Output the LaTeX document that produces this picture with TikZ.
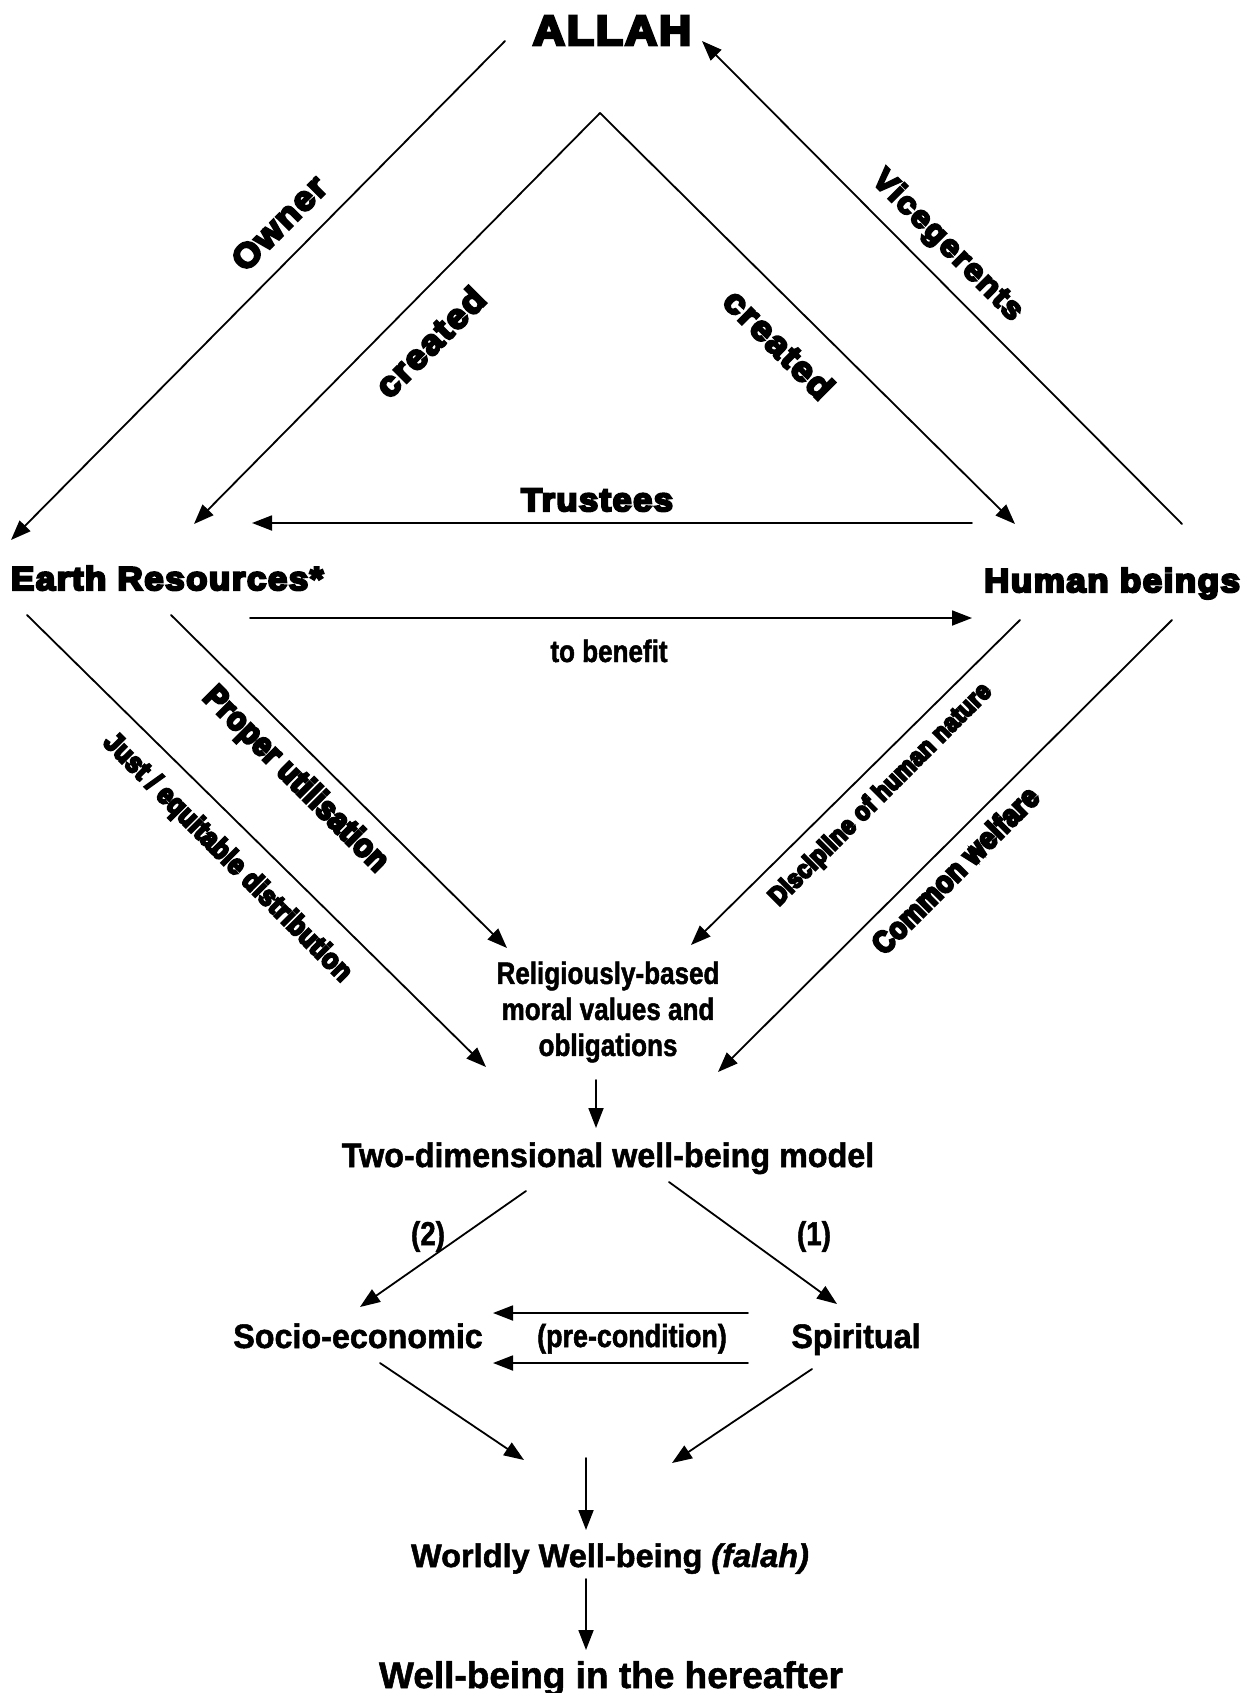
\documentclass[tikz,border=0pt]{standalone}
\usepackage{fontspec}
\usetikzlibrary{arrows.meta}

% Font families: a very heavy wide face for the main concepts, a heavy
% condensed face for the sloped labels, and narrow bold faces for the rest.
\newfontfamily\heavyfont{Liberation Sans Bold}[FakeBold=7,FakeStretch=1.06,LetterSpace=4.5]
\newfontfamily\condheavyfont{Liberation Sans Bold}[FakeBold=8,FakeStretch=0.88,LetterSpace=1.5]
\newfontfamily\narrowfont{Liberation Sans Bold}[FakeBold=1.5,FakeStretch=0.84]
\newfontfamily\semifont{Liberation Sans Bold}[FakeBold=1.5,FakeStretch=0.95]
\newfontfamily\plainfont{Liberation Sans Bold}[FakeBold=1.5]
\newfontfamily\plainitfont{Liberation Sans Bold Italic}[FakeBold=1.5]

\tikzset{
  conn/.style={line width=1.8pt, line cap=round},
  arr/.style={conn, -{Triangle[length=20pt,width=15pt]}},
  txt/.style={inner sep=0pt, outer sep=0pt, anchor=base, text=black},
  heavy/.style={txt, font=\heavyfont\fontsize{#1}{#1}\selectfont},
  slope/.style={inner sep=0pt, anchor=center, font=\condheavyfont\fontsize{#1}{#1}\selectfont},
  slopeheavy/.style={inner sep=0pt, anchor=center, font=\heavyfont\fontsize{#1}{#1}\selectfont},
  narrow/.style={txt, font=\narrowfont\fontsize{#1}{#1}\selectfont},
  semi/.style={txt, font=\semifont\fontsize{#1}{#1}\selectfont},
  plain/.style={txt, font=\plainfont\fontsize{#1}{#1}\selectfont},
}

\begin{document}
\begin{tikzpicture}[x=1pt,y=-1pt]
  \fill[white] (0,0) rectangle (1258,1693);
  \useasboundingbox (0,0) rectangle (1258,1693);

  % ---- main concepts ----
  \node[heavy=42] (allah) at (612,45) {ALLAH};
  \node[heavy=33, anchor=base west] (earth) at (11,590) {Earth Resources*};
  \node[heavy=33, anchor=base east] (human) at (1240,592) {Human beings};

  % ---- end points of the connectors ----
  \coordinate (ownerS) at (505,41);
  \coordinate (ownerE) at (11,540);
  \coordinate (apex) at (600,113);
  \coordinate (createdL) at (194,524);
  \coordinate (createdR) at (1015,524);
  \coordinate (viceS) at (1182,524);
  \coordinate (viceE) at (702,41);
  \coordinate (trustS) at (972,523);
  \coordinate (trustE) at (252,523);
  \coordinate (benefitS) at (250,618);
  \coordinate (benefitE) at (972,618);
  \coordinate (justS) at (27,615);
  \coordinate (justE) at (486,1067);
  \coordinate (properS) at (171,615);
  \coordinate (properE) at (507,948);
  \coordinate (discS) at (1020,620);
  \coordinate (discE) at (691,945);
  \coordinate (commonS) at (1172,620);
  \coordinate (commonE) at (718,1072);

  % ---- upper triangle ----
  \draw[arr] (ownerS) -- (ownerE);
  \draw[arr] (apex) -- (createdL);
  \draw[arr] (apex) -- (createdR);
  \draw[arr] (viceS) -- (viceE);
  \draw[arr] (trustS) -- (trustE);
  \draw[arr] (benefitS) -- (benefitE);

  \node[slopeheavy=34, rotate=45] (lowner) at (279,223) {Owner};
  \node[slopeheavy=34.5, rotate=45] (lcreatedL) at (430,342) {created};
  \node[slopeheavy=34.5, rotate=-45] (lcreatedR) at (779,344) {created};
  \node[slopeheavy=31, rotate=-45] (lvice) at (947,246) {Vicegerents};
  \node[heavy=32.5] (ltrust) at (597,511) {Trustees};
  \node[narrow=31] (lbenefit) at (609,662) {to benefit};

  % ---- lower triangle ----
  \draw[arr] (justS) -- (justE);
  \draw[arr] (properS) -- (properE);
  \draw[arr] (discS) -- (discE);
  \draw[arr] (commonS) -- (commonE);

  \node[slope=33, rotate=-45] (lproper) at (295,780) {Proper utilisation};
  \node[slope=28.5, rotate=-45] (ljust) at (227,858) {Just / equitable distribution};
  \node[slope=26, rotate=45] (ldisc) at (881,795) {Discipline of human nature};
  \node[slope=30.5, rotate=45] (lcommon) at (955,870) {Common welfare};

  \node[narrow=31, anchor=center, align=center] (moral) at (608,1012)
    {Religiously-based\\[5pt]moral values and\\[5pt]obligations};

  % ---- well-being model ----
  \node[semi=34] (model) at (608,1167) {Two-dimensional well-being model};
  \node[semi=34] (socio) at (358,1348) {Socio-economic};
  \node[semi=34] (spirit) at (856,1348) {Spiritual};
  \node[narrow=33] (two) at (428,1245) {(2)};
  \node[narrow=33] (one) at (814,1245) {(1)};
  \node[narrow=32] (pre) at (632,1347) {(pre-condition)};
  \node[plain=32.5] (worldly) at (610,1567) {Worldly Well-being {\plainitfont (falah)}};
  \node[plain=37] (hereafter) at (611,1688) {Well-being in the hereafter};

  \coordinate (moralS) at (596,1080);
  \coordinate (moralE) at (596,1128);
  \coordinate (modelL) at (526,1191);
  \coordinate (modelR) at (669,1182);
  \coordinate (socioN) at (360,1307);
  \coordinate (spiritN) at (837,1304);
  \coordinate (preUS) at (748,1313);
  \coordinate (preUE) at (493,1313);
  \coordinate (preLS) at (748,1363);
  \coordinate (preLE) at (493,1363);
  \coordinate (socioS) at (380,1363);
  \coordinate (spiritS) at (812,1369);
  \coordinate (joinL) at (524,1460);
  \coordinate (joinR) at (672,1463);
  \coordinate (joinS) at (586,1458);
  \coordinate (worldlyN) at (586,1530);
  \coordinate (worldlyS) at (586,1579);
  \coordinate (hereafterN) at (586,1650);

  \draw[arr] (moralS) -- (moralE);
  \draw[arr] (modelL) -- (socioN);
  \draw[arr] (modelR) -- (spiritN);
  \draw[arr] (preUS) -- (preUE);
  \draw[arr] (preLS) -- (preLE);
  \draw[arr] (socioS) -- (joinL);
  \draw[arr] (spiritS) -- (joinR);
  \draw[arr] (joinS) -- (worldlyN);
  \draw[arr] (worldlyS) -- (hereafterN);
\end{tikzpicture}
\end{document}
